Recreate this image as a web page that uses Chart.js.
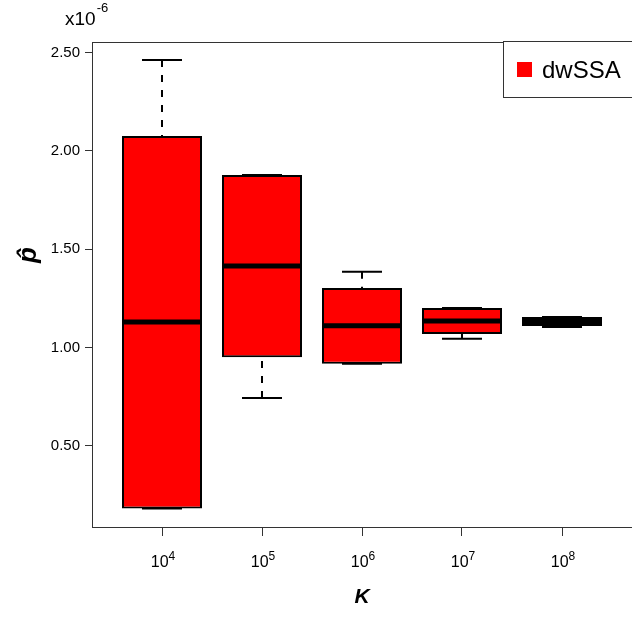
<!DOCTYPE html>
<html>
<head>
<meta charset="utf-8">
<script src="https://cdn.jsdelivr.net/npm/chart.js@4/dist/chart.umd.min.js"></script>
<style>
  html, body { margin: 0; padding: 0; background: #fff; }
  #wrap { width: 632px; height: 617px; }
</style>
</head>
<body>
<div id="wrap"><canvas id="boxChart" width="632" height="617"></canvas></div>
<script>
/* ---------------- DATA ---------------- */

const seriesName = "dwSSA";
const kPositions = [1, 2, 3, 4, 5];
const kExponents = ["4", "5", "6", "7", "8"];

// values in units of 1e-6
const upperWhisker = [2.462, 1.877, 1.385, 1.200, 1.155];
const q3 = [2.075, 1.877, 1.302, 1.200, 1.155];
const median = [1.129, 1.414, 1.110, 1.134, 1.132];
const q1 = [0.180, 0.950, 0.917, 1.068, 1.109];
const lowerWhisker = [0.180, 0.743, 0.917, 1.044, 1.104];

const yTicks = [0.5, 1.0, 1.5, 2.0, 2.5];

/* ---------------- STYLE ---------------- */

const FONT = "'Liberation Sans', Arial, Helvetica, sans-serif";
const AXIS = "#333";
const BOX_HALF = 0.4;
const CAP_HALF = 0.2;

/* ---------------- SEGMENTS ---------------- */

// build broken line data: pairs of points separated by a null gap
function segments(pairs) {
  const out = [];
  pairs.forEach(p => {
    out.push(p[0], p[1], {x: p[1].x, y: null});
  });
  return out;
}

const boxData = kPositions.map((x, i) => ({x: x, y: [q1[i], q3[i]]}));

const medianData = segments(kPositions.map((x, i) => [
  {x: x - BOX_HALF, y: median[i]}, {x: x + BOX_HALF, y: median[i]}
]));

const whiskerData = segments([].concat(
  kPositions.map((x, i) => [{x: x, y: upperWhisker[i]}, {x: x, y: q3[i]}]),
  kPositions.map((x, i) => [{x: x, y: lowerWhisker[i]}, {x: x, y: q1[i]}])
));

const capData = segments([].concat(
  kPositions.map((x, i) => [{x: x - CAP_HALF, y: upperWhisker[i]}, {x: x + CAP_HALF, y: upperWhisker[i]}]),
  kPositions.map((x, i) => [{x: x - CAP_HALF, y: lowerWhisker[i]}, {x: x + CAP_HALF, y: lowerWhisker[i]}])
));

/* ---------------- PLUGIN ---------------- */

const decor = {
  id: "decor",
  afterDraw(chart) {
    const ctx = chart.ctx;
    const a = chart.chartArea;
    const xs = chart.scales.x;

    ctx.save();

    // frame
    ctx.strokeStyle = AXIS;
    ctx.lineWidth = 1;
    ctx.strokeRect(a.left + 0.5, a.top + 0.5, a.right - a.left, a.bottom - a.top);

    // x tick labels 10^k
    ctx.fillStyle = "#000";
    ctx.textBaseline = "alphabetic";
    ctx.textAlign = "left";
    kPositions.forEach((v, i) => {
      const px = xs.getPixelForValue(v);
      ctx.font = "16px " + FONT;
      const wb = ctx.measureText("10").width;
      ctx.font = "12px " + FONT;
      const we = ctx.measureText(kExponents[i]).width;
      const x0 = px - (wb + we) / 2 + 1;
      ctx.font = "16px " + FONT;
      ctx.fillText("10", x0, 567);
      ctx.font = "12px " + FONT;
      ctx.fillText(kExponents[i], x0 + wb, 560);
    });

    // scale factor
    ctx.font = "19px " + FONT;
    ctx.fillText("x10", 65, 25);
    const wx = ctx.measureText("x10").width;
    ctx.font = "13px " + FONT;
    ctx.fillText("-6", 65 + wx + 1, 12);

    // y title
    ctx.save();
    ctx.translate(29, 255);
    ctx.rotate(-Math.PI / 2);
    ctx.font = "italic bold 26px " + FONT;
    ctx.textAlign = "center";
    ctx.textBaseline = "middle";
    ctx.fillText("p\u0302", 0, 0);
    ctx.restore();

    // legend
    const ds = chart.data.datasets[0];
    ctx.fillStyle = "#fff";
    ctx.fillRect(503.5, 41.5, a.right - 503.5, 56);
    ctx.strokeStyle = AXIS;
    ctx.strokeRect(503.5, 41.5, a.right - 503.5 + 2, 56);
    ctx.fillStyle = ds.backgroundColor;
    ctx.fillRect(517, 62, 15, 15);
    ctx.fillStyle = "#000";
    ctx.font = "24px " + FONT;
    ctx.textAlign = "left";
    ctx.textBaseline = "alphabetic";
    ctx.fillText(ds.label, 542, 78);

    ctx.restore();
  }
};

/* ---------------- CHART ---------------- */

new Chart(document.getElementById("boxChart"), {
  type: "bar",
  data: {
    datasets: [
      {
        label: seriesName,
        data: boxData,
        backgroundColor: "#ff0000",
        borderColor: "#000",
        borderWidth: 2,
        borderSkipped: false,
        barPercentage: 0.8,
        categoryPercentage: 1.0,
        order: 1
      },
      {
        type: "line",
        label: "median",
        data: medianData,
        borderColor: "#000",
        borderWidth: 5,
        pointRadius: 0,
        spanGaps: false,
        order: 0
      },
      {
        type: "line",
        label: "whisker",
        data: whiskerData,
        borderColor: "#000",
        borderWidth: 2,
        borderDash: [7, 8],
        pointRadius: 0,
        spanGaps: false,
        order: 2
      },
      {
        type: "line",
        label: "cap",
        data: capData,
        borderColor: "#000",
        borderWidth: 2,
        pointRadius: 0,
        spanGaps: false,
        order: 2
      }
    ]
  },
  options: {
    responsive: false,
    animation: false,
    devicePixelRatio: 1,
    layout: { padding: { top: 42, left: 0, right: 0, bottom: 0 } },
    plugins: {
      legend: { display: false },
      tooltip: { enabled: false }
    },
    scales: {
      x: {
        type: "linear",
        min: 0.3,
        max: 5.7,
        offset: false,
        afterFit: s => { s.height = 90; },
        afterBuildTicks: s => { s.ticks = kPositions.map(v => ({value: v})); },
        grid: { offset: false, drawOnChartArea: false, drawTicks: true, tickLength: 9, color: AXIS },
        border: { display: true, color: AXIS, width: 1 },
        ticks: { display: false },
        title: {
          display: true,
          text: "K",
          color: "#000",
          font: { family: FONT, size: 21, style: "italic", weight: "bold" },
          padding: { top: 0, bottom: 7 }
        }
      },
      y: {
        min: 0.0865,
        max: 2.553,
        afterFit: s => { s.width = 92; },
        afterBuildTicks: s => { s.ticks = yTicks.map(v => ({value: v})); },
        grid: { drawOnChartArea: false, drawTicks: true, tickLength: 7, color: AXIS },
        border: { display: true, color: AXIS, width: 1 },
        ticks: {
          color: "#000",
          padding: 5,
          font: { family: FONT, size: 15 },
          callback: v => v.toFixed(2)
        }
      }
    }
  },
  plugins: [decor]
});
</script>
</body>
</html>
